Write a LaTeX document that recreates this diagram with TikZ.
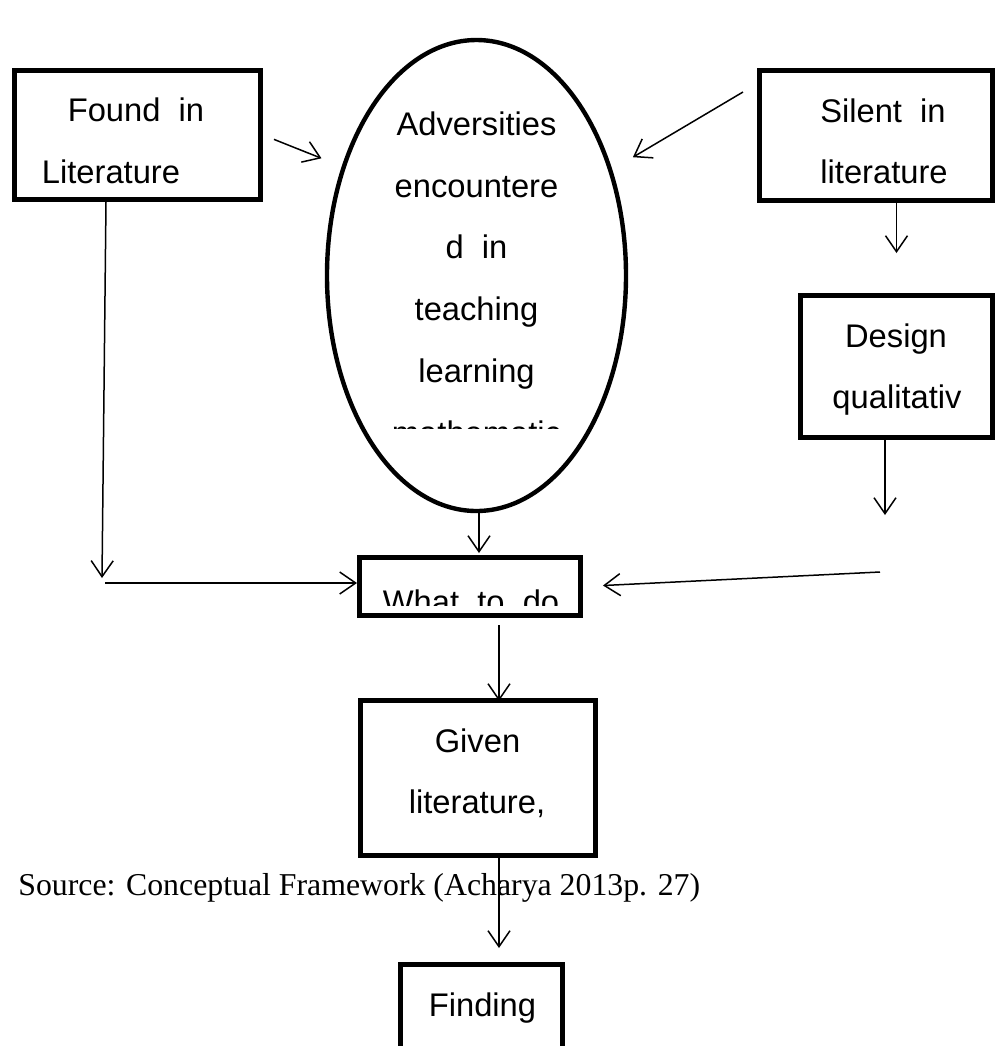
\documentclass[tikz,border=0pt]{standalone}
\usepackage{fontspec}
\newfontfamily\arialfont{Liberation Sans}
\newfontfamily\timesfont{Liberation Serif}
\usetikzlibrary{arrows.meta,shapes.geometric}

\tikzset{
	box/.style={draw, line width=2.5pt, rectangle, inner sep=0pt},
	oval/.style={draw, line width=2.2pt, ellipse, inner sep=0pt},
	txt/.style={font=\arialfont\fontsize{16.35}{16.35}\selectfont, inner sep=0pt, anchor=base},
	arr/.style={line width=0.75pt, -{Straight Barb[length=8pt,width=11pt]}},
}

\begin{document}
\begin{tikzpicture}[x=0.5pt, y=-0.5pt]
	\clip (0,0) rectangle (1000,1046);
	% frames
	\node[box, minimum width=123pt, minimum height=64.5pt] (found) at (137.5,135) {};
	\node[oval, minimum width=149.5pt, minimum height=235.5pt] (adv) at (476.5,275.5) {};
	\node[box, minimum width=116.5pt, minimum height=65pt] (silent) at (876,135.5) {};
	\node[box, minimum width=96pt, minimum height=71pt] (design) at (896.5,366.5) {};
	\node[box, minimum width=110.5pt, minimum height=29pt] (what) at (470,586.5) {};
	\node[box, minimum width=117.5pt, minimum height=77.5pt] (given) at (478,778) {};
	\node[box, minimum width=81pt, minimum height=66.5pt] (finding) at (481.5,1031) {};
	% texts
	\node[txt] (found1) at (136,121) {Found~~in};
	\node[txt] (found2) at (111,183) {Literature};
	\node[txt] (silent1) at (883,122) {Silent~~in};
	\node[txt] (silent2) at (884,183) {literature};
	\begin{scope}
		\clip (320,40) rectangle (640,428);
		\foreach \y/\name/\line in {135/adv1/Adversities, 197/adv2/encountere, 258/adv3/d~~in, 320/adv4/teaching, 382/adv5/learning, 444/adv6/mathematic}
			\node[txt] (\name) at (476.5,\y) {\line};
	\end{scope}
	\node[txt] (design1) at (896,347) {Design};
	\node[txt] (design2) at (897,408) {qualitativ};
	\begin{scope}
		\clip (360,558) rectangle (580,605);
		\node[txt] (what1) at (471,613) {What~~to~~do};
	\end{scope}
	\node[txt] (given1) at (477.5,752) {Given};
	\node[txt] (given2) at (477,813) {literature,};
	\node[txt] (finding1) at (482.5,1016) {Finding};
	\node[font=\timesfont\fontsize{15.9}{15.9}\selectfont, inner sep=0pt, anchor=base west] (source) at (18,895) {Source: Conceptual Framework (Acharya 2013p. 27)};
	% free ends
	\coordinate (fndend) at (102,578);
	\coordinate (dsgnend) at (885,515);
	\coordinate (dsgnout) at (880,572);
	% connectors
	\draw[arr, shorten <=5.9pt, shorten >=10.9pt] (found.east) -- (adv.141);
	\draw[arr, shorten >=12pt] ([shift={(-14,-43.5)}]silent.west) -- (adv.38.6);
	\draw[arr] (silent.south -| design.north) -- ([shift={(0,-40)}]design.north);
	\draw[arr] ([shift={(-11.5,0)}]design.south) -- (dsgnend);
	\draw[arr, shorten >=10pt] (dsgnout) -- (what.east);
	\draw[arr] ([shift={(-31.5,0)}]found.south) -- (fndend);
	\draw[arr] ([shift={(3,5)}]fndend) -- ([shift={(0,-3.5)}]what.west);
	\draw[arr] ([shift={(2.5,0)}]adv.south) -- ([shift={(9,-2)}]what.north);
	\draw[arr] ([shift={(29,7)}]what.south) -- ([shift={(21,3)}]given.north);
	\draw[arr] ([shift={(21,0)}]given.south) -- ([shift={(17.5,-14)}]finding.north);
\end{tikzpicture}
\end{document}
